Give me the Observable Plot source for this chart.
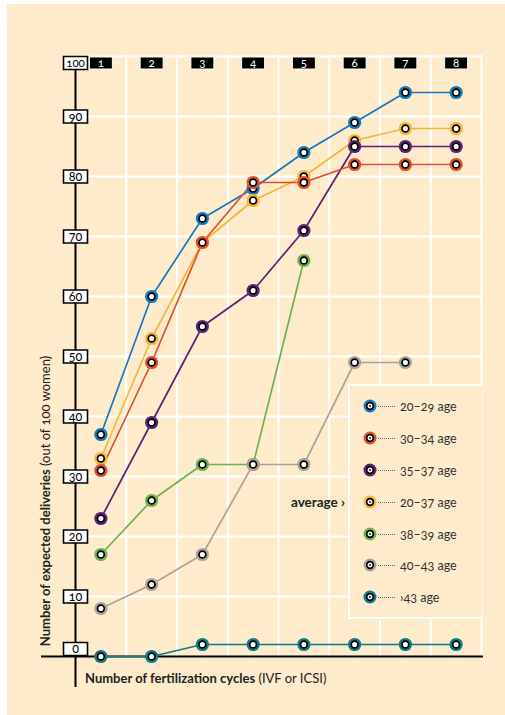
<!DOCTYPE html>
<html>
<head>
<meta charset="utf-8">
<script src="https://cdn.jsdelivr.net/npm/d3@7"></script>
<script src="https://cdn.jsdelivr.net/npm/@observablehq/plot@0.6"></script>
<style>
  html, body { margin: 0; padding: 0; background: #ffffff; }
  #wrap { position: relative; width: 505px; height: 715px; overflow: hidden; font-family: Lato, "Open Sans", sans-serif; }
  #panel { position: absolute; left: 7px; top: 4px; width: 498px; height: 711px; background: #fdebcc; }
  #chart { position: absolute; left: 0; top: 0; }
  .onum { font-variant-numeric: oldstyle-nums; }
  #ytitle { position: absolute; left: 45px; top: 501px; transform: translate(-50%, -50%) rotate(-90deg); white-space: nowrap; font-size: 13px; color: #222; }
  #xtitle { position: absolute; left: 85px; top: 670px; white-space: nowrap; font-size: 13px; color: #222; }
  #legend { position: absolute; left: 348px; top: 384px; width: 132px; height: 231px; background: #fdebcc; border: 2px solid #ffffff; border-right: none; }
  .lrow { position: absolute; left: 0; height: 16px; display: flex; align-items: center; white-space: nowrap; }
  .lrow svg { display: block; }
  .lead { width: 17px; border-top: 1.2px dotted #666; margin: 0 5px 0 1px; }
  .ltxt { font-size: 12.5px; color: #333; }
  #avg { position: absolute; right: 160px; top: 494px; font-size: 13.5px; font-weight: bold; color: #222; white-space: nowrap; }
</style>
</head>
<body>
<div id="wrap">
  <div id="panel"></div>
  <div id="chart"></div>
  <div id="legend"></div>
  <div id="avg">average ›</div>
  <div id="ytitle"><b>Number of expected deliveries</b> <span class="onum">(out of 100 women)</span></div>
  <div id="xtitle"><b>Number of fertilization cycles</b> (IVF or ICSI)</div>
</div>
<script>
// ---- data ----
const cycles = [1, 2, 3, 4, 5, 6, 7, 8];
const yTicks = [0, 10, 20, 30, 40, 50, 60, 70, 80, 90, 100];
const seriesNames = ["20–29 age", "30–34 age", "35–37 age", "20–37 age", "38–39 age", "40–43 age", "›43 age"];
const seriesColors = ["#1479bd", "#e1502a", "#5c2174", "#f8b535", "#6cb24f", "#aaa397", "#0d7b8a"];
const age2029 = [37, 60, 73, 78, 84, 89, 94, 94];
const age3034 = [31, 49, 69, 79, 79, 82, 82, 82];
const age3537 = [23, 39, 55, 61, 71, 85, 85, 85];
const avg2037 = [33, 53, 69, 76, 80, 86, 88, 88];
const age3839 = [17, 26, 32, 32, 66];
const age4043 = [8, 12, 17, 32, 32, 49, 49];
const over43 = [0, 0, 2, 2, 2, 2, 2, 2];

const valuesBySeries = {
  "20–29 age": age2029,
  "30–34 age": age3034,
  "35–37 age": age3537,
  "20–37 age": avg2037,
  "38–39 age": age3839,
  "40–43 age": age4043,
  "›43 age": over43
};
// draw order (later on top)
const drawOrder = ["20–29 age", "20–37 age", "35–37 age", "30–34 age", "38–39 age", "40–43 age", "›43 age"];

const rows = [];
for (const s of seriesNames) {
  valuesBySeries[s].forEach((v, i) => rows.push({series: s, cycle: cycles[i], value: v}));
}
const boundaries = cycles.map(c => c + 0.5);
const colorOf = Object.fromEntries(seriesNames.map((s, i) => [s, seriesColors[i]]));

// custom rectangular symbols for boxed labels
const boxSym = (w, h) => ({draw(ctx) { ctx.rect(-w / 2, -h / 2, w, h); }});
const yBox = boxSym(24, 13);
const xBox = boxSym(23, 12);

const midTicks = yTicks.filter(t => t !== 0 && t !== 100);
const labelFont = {fontSize: 12.5, fontFamily: "Lato, 'Open Sans', sans-serif", textAnchor: "middle", lineAnchor: "middle"};

const dotMarks = drawOrder.flatMap(s => {
  const d = rows.filter(r => r.series === s);
  return [
    Plot.dot(d, {x: "cycle", y: "value", r: 6.6, fill: colorOf[s], stroke: "none"}),
    Plot.dot(d, {x: "cycle", y: "value", r: 3.4, fill: "white", stroke: "black", strokeWidth: 1.7})
  ];
});

const plot = Plot.plot({
  width: 505,
  height: 715,
  marginLeft: 75,
  marginRight: 24,
  marginTop: 56,
  marginBottom: 59,
  x: {domain: [0.5, 8.5], axis: null},
  y: {domain: [0, 100], axis: null},
  color: {domain: seriesNames, range: seriesColors},
  style: {background: "transparent", overflow: "visible"},
  marks: [
    // grid
    Plot.ruleY(yTicks.filter(t => t > 0), {stroke: "white", strokeWidth: 2, insetRight: -1}),
    Plot.ruleX(boundaries, {stroke: "white", strokeWidth: 2, insetTop: -1}),
    // axes
    Plot.ruleY([0], {stroke: "black", strokeWidth: 2, insetLeft: -34, insetRight: -2}),
    Plot.ruleX([0.5], {stroke: "black", strokeWidth: 2, insetTop: 6, insetBottom: -31}),
    // y tick boxes
    Plot.dot(midTicks, {y: d => d, frameAnchor: "left", symbol: yBox, fill: "white", stroke: "black", strokeWidth: 1.6}),
    Plot.dot([100], {y: d => d, frameAnchor: "left", dy: 6.5, symbol: yBox, fill: "white", stroke: "black", strokeWidth: 1.6}),
    Plot.dot([0], {y: d => d, frameAnchor: "left", dy: -7.5, symbol: yBox, fill: "white", stroke: "black", strokeWidth: 1.6}),
    Plot.text(midTicks, {y: d => d, frameAnchor: "left", text: d => String(d), fill: "black", ...labelFont}),
    Plot.text([100], {y: d => d, frameAnchor: "left", dy: 6.5, text: d => String(d), fill: "black", ...labelFont, fontSize: 11.5}),
    Plot.text([0], {y: d => d, frameAnchor: "left", dy: -7.5, text: d => String(d), fill: "black", ...labelFont}),
    // column label boxes
    Plot.dot(cycles, {x: d => d, frameAnchor: "top", dy: 6.5, symbol: xBox, fill: "black", stroke: "white", strokeWidth: 1}),
    Plot.text(cycles, {x: d => d, frameAnchor: "top", dy: 6.5, text: d => String(d), fill: "white", ...labelFont, fontSize: 11.5}),
    // lines
    ...drawOrder.map(s => Plot.line(rows.filter(r => r.series === s), {x: "cycle", y: "value", stroke: colorOf[s], strokeWidth: 1.7})),
    // points
    ...dotMarks
  ]
});
plot.style.fontVariantNumeric = "oldstyle-nums";
document.getElementById("chart").appendChild(plot);

// legend
const legend = document.getElementById("legend");
const rowTops = [406, 438, 470, 502, 534, 565, 597];
seriesNames.forEach((s, i) => {
  const row = document.createElement("div");
  row.className = "lrow";
  row.style.left = "13px";
  row.style.top = (rowTops[i] - 386 - 8) + "px";
  row.innerHTML =
    `<svg width="14" height="14" viewBox="-7 -7 14 14"><circle r="6.5" fill="${seriesColors[i]}"/><circle r="3.3" fill="white" stroke="black" stroke-width="1.7"/><circle r="0.9" fill="black"/></svg>` +
    `<div class="lead"></div><span class="ltxt onum">${s}</span>`;
  legend.appendChild(row);
});
</script>
</body>
</html>
